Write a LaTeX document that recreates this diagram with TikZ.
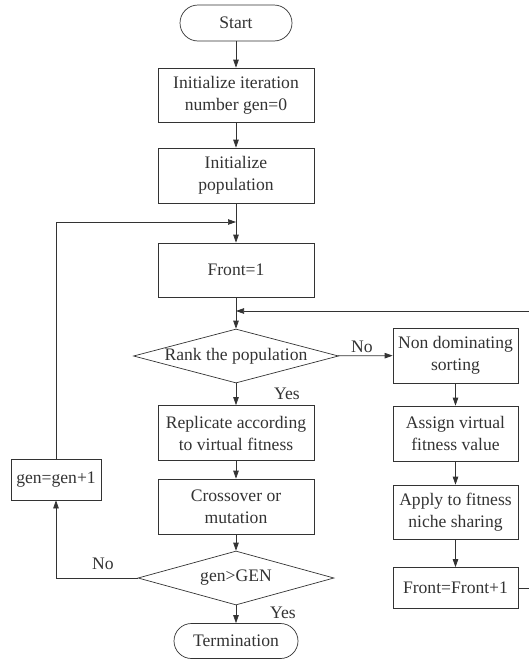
\documentclass[tikz,border=0pt]{standalone}
\usepackage{fontspec}
\setmainfont{Liberation Serif}
\usetikzlibrary{shapes.geometric,arrows.meta}

\begin{document}
\begin{tikzpicture}[
  x=1pt, y=-1pt,
  every node/.style={font=\fontsize{17.6}{22}\selectfont},
  box/.style={rectangle,draw,minimum width=156pt,minimum height=54pt,inner sep=0pt,align=center},
  sidebox/.style={box,minimum width=125pt},
  terminal/.style={rectangle,draw,rounded corners=17.5pt,minimum height=35pt,inner sep=0pt},
  decision/.style={diamond,draw,aspect=3.8,inner sep=0pt,minimum width=205pt,minimum height=54pt},
  lbl/.style={inner sep=0pt},
  color=black!80, line width=0.7pt, ->, >={Triangle[length=8pt,width=5.5pt]}
]
  \useasboundingbox (0,0) rectangle (529,659);
  \clip (0,0) rectangle (529,659);

  % main column
  \node[terminal,minimum width=112pt,minimum height=36pt,rounded corners=18pt] (start) at (236,23) {Start};
  \node[box] (init)  at (236,95)  {Initialize iteration\\number gen=0};
  \node[box,minimum height=55pt] (pop) at (236,175.5) {Initialize\\population};
  \node[box] (front) at (236,270) {Front=1};
  \node[decision] (rank) at (236,356) {Rank the population};
  \node[box,minimum height=55pt] (rep)   at (236,433)   {Replicate according\\to virtual fitness};
  \node[box,minimum height=55pt] (cross) at (236,506.5) {Crossover or\\mutation};
  \node[decision,minimum width=196pt,aspect=3.6] (check) at (236,578) {gen>GEN};
  \node[terminal,minimum width=124pt] (term) at (236,641) {Termination};

  % side columns
  \node[box,minimum width=90pt,minimum height=41pt] (geninc) at (56,479.5) {gen=gen+1};
  \node[sidebox,minimum height=55pt] (nondom) at (455.5,355.5) {Non dominating\\sorting};
  \node[sidebox,minimum height=55pt] (assign) at (455.5,433.5) {Assign virtual\\fitness value};
  \node[sidebox] (apply) at (455.5,512) {Apply to fitness\\niche sharing};
  \node[sidebox,minimum height=41pt] (frontinc) at (455.5,588) {Front=Front+1};

  % labels
  \node[lbl] (yesrank)  at (287,394) {Yes};
  \node[lbl] (norank)   at (362,347) {No};
  \node[lbl] (nocheck)  at (103,564) {No};
  \node[lbl] (yescheck) at (283,613) {Yes};

  \coordinate (m1) at (236,222);
  \coordinate (m2) at (236,311);

  % connectors
  \draw (start) -- (init);
  \draw (init) -- (pop);
  \draw (pop) -- (front);
  \draw (front) -- (rank);
  \draw (rank) -- (rep);
  \draw (rank) -- (nondom);
  \draw (rep) -- (cross);
  \draw (cross) -- (check);
  \draw (check) -- (term);
  \draw (check.west) -| (geninc.south);
  \draw (geninc.north) |- (m1);
  \draw (nondom) -- (assign);
  \draw (assign) -- (apply);
  \draw (apply) -- (frontinc);
  \draw (frontinc.east) -- ++(25,0) |- (m2);
\end{tikzpicture}
\end{document}
